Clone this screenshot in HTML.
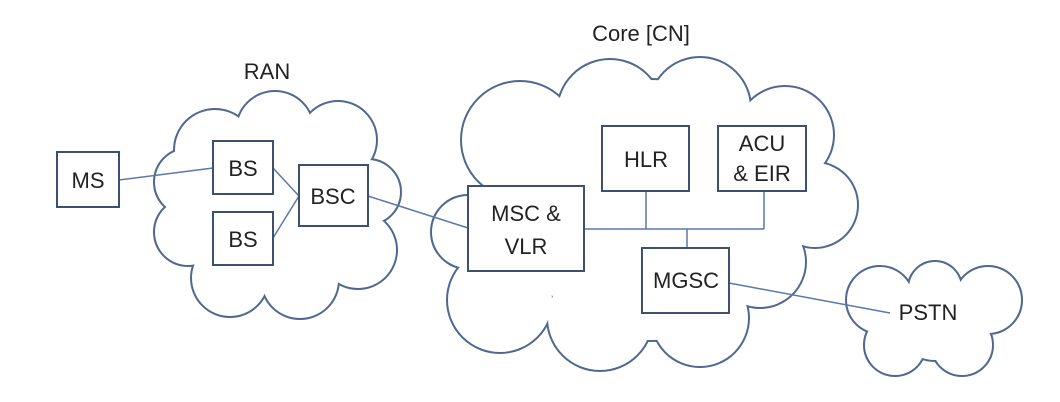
<!DOCTYPE html>
<html><head><meta charset="utf-8"><style>
html,body{margin:0;padding:0;background:#fff;}
svg{display:block;}
text{font-family:"Liberation Sans",sans-serif;fill:#222;font-size:22px;}
</style></head><body>
<svg width="1060" height="402" viewBox="0 0 1060 402" xmlns="http://www.w3.org/2000/svg">
<g stroke="#50688f" stroke-width="4" fill="#50688f">
<circle cx="215" cy="150" r="40"/><circle cx="275" cy="130" r="38"/><circle cx="338" cy="140" r="38"/><circle cx="368" cy="192" r="32"/><circle cx="358" cy="250" r="38"/><circle cx="300" cy="280" r="38"/><circle cx="230" cy="278" r="38"/><circle cx="188" cy="232" r="33"/><circle cx="188" cy="182" r="33"/><circle cx="280" cy="205" r="80"/>
<circle cx="520" cy="140" r="58"/><circle cx="610" cy="112" r="52"/><circle cx="700" cy="108" r="50"/><circle cx="785" cy="135" r="48"/><circle cx="815" cy="205" r="42"/><circle cx="760" cy="262" r="45"/><circle cx="700" cy="318" r="48"/><circle cx="600" cy="318" r="52"/><circle cx="500" cy="300" r="52"/><circle cx="468" cy="232" r="36"/><circle cx="650" cy="210" r="130"/>
<circle cx="880" cy="300" r="33"/><circle cx="935" cy="288" r="26"/><circle cx="988" cy="300" r="33"/><circle cx="962" cy="345" r="30"/><circle cx="895" cy="345" r="30"/><circle cx="935" cy="320" r="40"/>
</g>
<g fill="#fff">
<circle cx="215" cy="150" r="40"/><circle cx="275" cy="130" r="38"/><circle cx="338" cy="140" r="38"/><circle cx="368" cy="192" r="32"/><circle cx="358" cy="250" r="38"/><circle cx="300" cy="280" r="38"/><circle cx="230" cy="278" r="38"/><circle cx="188" cy="232" r="33"/><circle cx="188" cy="182" r="33"/><circle cx="280" cy="205" r="80"/>
<circle cx="520" cy="140" r="58"/><circle cx="610" cy="112" r="52"/><circle cx="700" cy="108" r="50"/><circle cx="785" cy="135" r="48"/><circle cx="815" cy="205" r="42"/><circle cx="760" cy="262" r="45"/><circle cx="700" cy="318" r="48"/><circle cx="600" cy="318" r="52"/><circle cx="500" cy="300" r="52"/><circle cx="468" cy="232" r="36"/><circle cx="650" cy="210" r="130"/>
<circle cx="880" cy="300" r="33"/><circle cx="935" cy="288" r="26"/><circle cx="988" cy="300" r="33"/><circle cx="962" cy="345" r="30"/><circle cx="895" cy="345" r="30"/><circle cx="935" cy="320" r="40"/>
</g>
<g stroke="#5a78a8" stroke-width="1.5" fill="none">
<line x1="119" y1="180" x2="213" y2="168"/>
<line x1="273" y1="168" x2="299" y2="196"/>
<line x1="273" y1="238" x2="299" y2="196"/>
<line x1="368" y1="196" x2="468" y2="228"/>
<line x1="584" y1="229" x2="764" y2="229"/>
<line x1="646" y1="191" x2="646" y2="229"/>
<line x1="764" y1="191" x2="764" y2="229"/>
<line x1="687" y1="229" x2="687" y2="248"/>
<line x1="729" y1="283" x2="890" y2="313"/>
</g>
<g stroke="#3e5070" stroke-width="2" fill="#fff">
<rect x="57" y="152" width="62" height="55"/>
<rect x="213" y="141" width="60" height="53"/>
<rect x="213" y="212" width="60" height="53"/>
<rect x="299" y="165" width="69" height="61"/>
<rect x="468" y="186" width="116" height="85"/>
<rect x="602" y="126" width="87" height="65"/>
<rect x="718" y="126" width="88" height="65"/>
<rect x="642" y="248" width="87" height="65"/>
</g>
<g text-anchor="middle">
<text x="88" y="188">MS</text>
<text x="243" y="176">BS</text>
<text x="243" y="247">BS</text>
<text x="333" y="204">BSC</text>
<text x="526" y="221">MSC &amp;</text>
<text x="526" y="254">VLR</text>
<text x="646" y="167">HLR</text>
<text x="762" y="151">ACU</text>
<text x="762" y="181">&amp; EIR</text>
<text x="686" y="288">MGSC</text>
<text x="928" y="320">PSTN</text>
<text x="267" y="79">RAN</text>
<text x="641" y="41">Core [CN]</text>
</g>
</svg>
</body></html>
